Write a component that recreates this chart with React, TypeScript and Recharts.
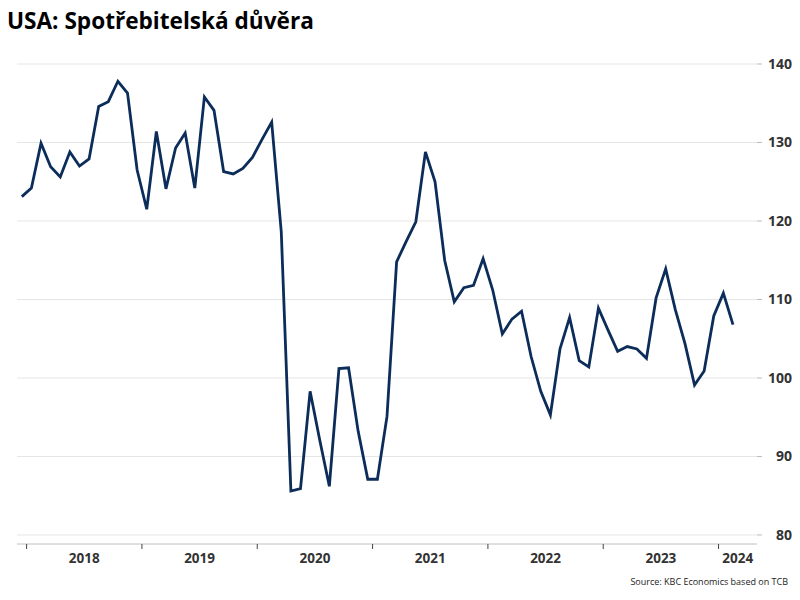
import React from 'react';
import { LineChart, Line, XAxis, YAxis, CartesianGrid } from 'recharts';

// monthly values, Dec 2017 .. Feb 2024
const months = [
  '2017-12',
  '2018-01', '2018-02', '2018-03', '2018-04', '2018-05', '2018-06', '2018-07', '2018-08', '2018-09', '2018-10', '2018-11', '2018-12',
  '2019-01', '2019-02', '2019-03', '2019-04', '2019-05', '2019-06', '2019-07', '2019-08', '2019-09', '2019-10', '2019-11', '2019-12',
  '2020-01', '2020-02', '2020-03', '2020-04', '2020-05', '2020-06', '2020-07', '2020-08', '2020-09', '2020-10', '2020-11', '2020-12',
  '2021-01', '2021-02', '2021-03', '2021-04', '2021-05', '2021-06', '2021-07', '2021-08', '2021-09', '2021-10', '2021-11', '2021-12',
  '2022-01', '2022-02', '2022-03', '2022-04', '2022-05', '2022-06', '2022-07', '2022-08', '2022-09', '2022-10', '2022-11', '2022-12',
  '2023-01', '2023-02', '2023-03', '2023-04', '2023-05', '2023-06', '2023-07', '2023-08', '2023-09', '2023-10', '2023-11', '2023-12',
  '2024-01', '2024-02',
];

const confidence = [
  123.1,
  124.2, 129.9, 126.9, 125.6, 128.8, 127.0, 127.9, 134.6, 135.2, 137.8, 136.3, 126.5,
  121.5, 131.4, 124.1, 129.3, 131.2, 124.2, 135.8, 134.1, 126.3, 126.0, 126.7, 128.1,
  130.4, 132.6, 118.6, 85.6, 85.9, 98.3, 92.1, 86.2, 101.2, 101.3, 93.2, 87.1,
  87.1, 95.1, 114.8, 117.4, 119.9, 128.8, 125.0, 115.0, 109.7, 111.5, 111.8, 115.2,
  111.2, 105.6, 107.5, 108.5, 102.7, 98.3, 95.3, 103.7, 107.7, 102.2, 101.4, 108.9,
  106.1, 103.4, 104.0, 103.7, 102.5, 110.2, 113.9, 108.7, 104.4, 99.1, 100.9, 107.9,
  110.8, 106.8,
];

const yearTicks = [0, 12, 24, 36, 48, 60, 72];
const yearLabels = ['2018', '2019', '2020', '2021', '2022', '2023', '2024'];
const valueTicks = [80, 90, 100, 110, 120, 130, 140];

// x = months since Jan 2018, plotted mid-month
const data = months.map((m, i) => {
  const [y, mo] = m.split('-').map(Number);
  return { t: (y - 2018) * 12 + (mo - 1) + 0.5, value: confidence[i] };
});

const X_MIN = -1;
const X_MAX = 76;

const YearTick = (props: any) => {
  const { x, y, payload, index } = props;
  const pxPerMonth = 740 / (X_MAX - X_MIN);
  const span = index === yearTicks.length - 1 ? (X_MAX - payload.value) / 2 : 6;
  return (
    <text
      x={x + span * pxPerMonth}
      y={y + 12}
      textAnchor="middle"
      fontFamily="'Open Sans', sans-serif"
      fontWeight={700}
      fontSize={13.5}
      fill="#333"
    >
      {yearLabels[index]}
    </text>
  );
};

const ValueTick = (props: any) => {
  const { y, payload } = props;
  return (
    <text
      x={792}
      y={y + 5}
      textAnchor="end"
      fontFamily="'Open Sans', sans-serif"
      fontWeight={700}
      fontSize={14}
      fill="#333"
    >
      {payload.value}
    </text>
  );
};

export default function App() {
  return (
    <div style={{ position: 'absolute', left: 0, top: 0, width: 800, height: 600, background: '#fff' }}>
      <div
        style={{
          position: 'absolute',
          left: 7,
          top: 5,
          fontFamily: "'Open Sans', sans-serif",
          fontWeight: 700,
          fontSize: 22.6,
          color: '#000',
          whiteSpace: 'nowrap',
        }}
      >
        USA: Spotřebitelská důvěra
      </div>
      <LineChart
        width={800}
        height={600}
        data={data}
        margin={{ top: 64, right: 3, bottom: 26, left: 17 }}
      >
        <CartesianGrid vertical={false} stroke="#e6e6e6" />
        <XAxis
          dataKey="t"
          type="number"
          domain={[X_MIN, X_MAX]}
          ticks={yearTicks}
          interval={0}
          height={30}
          axisLine={{ stroke: '#ccc' }}
          tickLine={{ stroke: '#444' }}
          tickSize={5}
          tick={<YearTick />}
        />
        <YAxis
          orientation="right"
          type="number"
          domain={[78.85, 140]}
          ticks={valueTicks}
          interval={0}
          width={40}
          axisLine={false}
          tickLine={{ stroke: '#bbb' }}
          tickSize={5}
          tick={<ValueTick />}
        />
        <Line
          type="linear"
          dataKey="value"
          stroke="#0c2c5a"
          strokeWidth={2.8}
          dot={false}
          isAnimationActive={false}
        />
      </LineChart>
      <div
        style={{
          position: 'absolute',
          right: 12,
          top: 575,
          fontFamily: "'Open Sans', sans-serif",
          fontSize: 9,
          color: '#222',
          whiteSpace: 'nowrap',
        }}
      >
        Source: KBC Economics based on TCB
      </div>
    </div>
  );
}
